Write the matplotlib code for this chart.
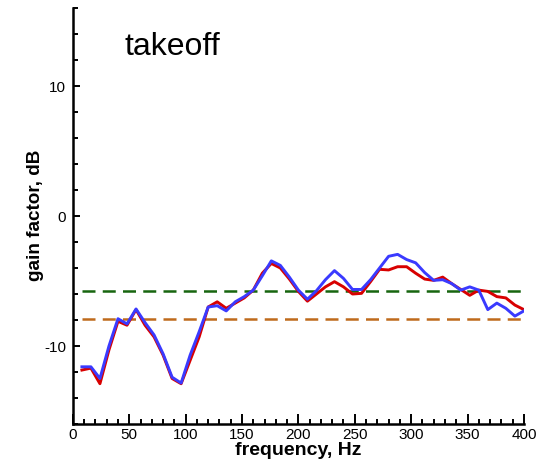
import numpy as np
import matplotlib
matplotlib.use('Agg')
import matplotlib.pyplot as plt
from matplotlib.ticker import MultipleLocator

# data
freq = np.arange(8, 401, 8)
gain_red = [-11.85, -11.7, -12.9, -10.3, -8.1, -8.4, -7.2, -8.4, -9.3, -10.7,
            -12.5, -12.9, -11.1, -9.3, -7.0, -6.6, -7.1, -6.7, -6.3, -5.7,
            -4.4, -3.65, -4.0, -4.85, -5.8, -6.55, -6.0, -5.45, -5.05, -5.45,
            -6.0, -5.95, -5.05, -4.1, -4.15, -3.9, -3.9, -4.4, -4.85, -4.95,
            -4.7, -5.2, -5.65, -6.1, -5.7, -5.8, -6.2, -6.3, -6.85, -7.2]
gain_blue = [-11.6, -11.6, -12.5, -10.0, -7.9, -8.3, -7.15, -8.2, -9.15, -10.6,
             -12.4, -12.85, -10.7, -8.9, -7.0, -6.9, -7.3, -6.6, -6.2, -5.7,
             -4.6, -3.45, -3.8, -4.7, -5.7, -6.4, -5.75, -4.9, -4.2, -4.8,
             -5.65, -5.65, -4.9, -4.0, -3.1, -2.95, -3.35, -3.6, -4.35, -4.95,
             -4.9, -5.2, -5.7, -5.45, -5.7, -7.2, -6.7, -7.1, -7.7, -7.3]
level_green = -5.77
level_orange = -7.92
title = 'takeoff'


def main():
    plt.rcParams['font.family'] = ['Liberation Sans', 'DejaVu Sans']
    plt.rcParams['axes.unicode_minus'] = False
    fig = plt.figure(figsize=(5.48, 4.63), dpi=100)
    ax = fig.add_axes([0.133, 0.0842, 0.823, 0.8985])

    ax.plot([freq[0], freq[-1]], [level_green] * 2, color='#17650f', lw=1.8,
            dashes=(5.2, 2.9))
    ax.plot([freq[0], freq[-1]], [level_orange] * 2, color='#bf6a1c', lw=1.8,
            dashes=(5.2, 2.9))
    ax.plot(freq, gain_red, color='#d80000', lw=2.1)
    ax.plot(freq, gain_blue, color='#3a3aff', lw=2.1)

    ax.set_xlim(0, 400)
    ax.set_ylim(-16, 16)
    ax.xaxis.set_major_locator(MultipleLocator(50))
    ax.xaxis.set_minor_locator(MultipleLocator(10))
    ax.yaxis.set_major_locator(MultipleLocator(10))
    ax.yaxis.set_minor_locator(MultipleLocator(2))

    for s in ['top', 'right']:
        ax.spines[s].set_visible(False)
    for s in ['left', 'bottom']:
        ax.spines[s].set_linewidth(1.8)

    ax.tick_params(axis='both', which='both', direction='in', width=1.4,
                   labelsize=11)
    ax.tick_params(axis='x', which='major', length=7.2, pad=3)
    ax.tick_params(axis='x', which='minor', length=3.6)
    ax.tick_params(axis='y', which='major', length=5, pad=5)
    ax.tick_params(axis='y', which='minor', length=3.6)

    ax.set_xlabel('frequency, Hz', fontsize=14, fontweight='bold', labelpad=0)
    ax.set_ylabel('gain factor, dB', fontsize=13.6, fontweight='bold')
    ax.yaxis.set_label_coords(-0.064, 0.502)

    ax.text(0.115, 0.907, title, transform=ax.transAxes, fontsize=23,
            va='center', ha='left')

    fig.savefig('out.png', dpi=100)


if __name__ == '__main__':
    main()
